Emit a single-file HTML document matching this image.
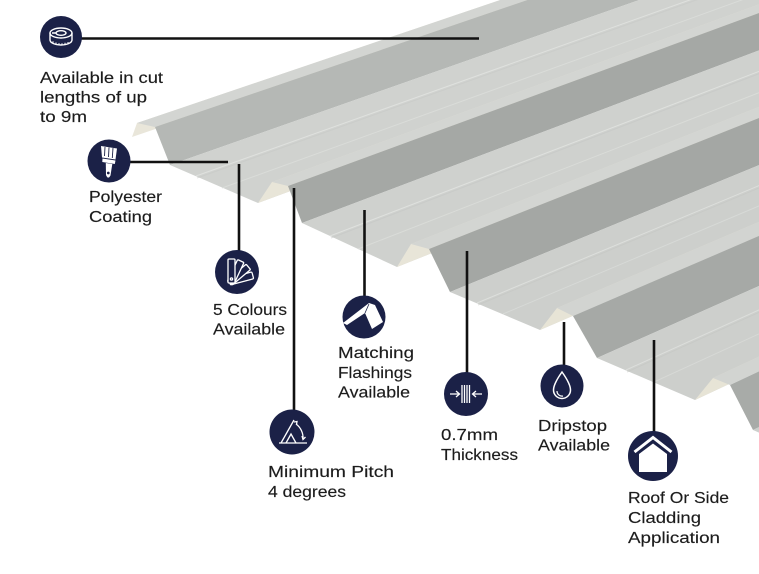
<!DOCTYPE html>
<html>
<head>
<meta charset="utf-8">
<style>
  html,body{margin:0;padding:0;background:#fff;}
  svg{display:block;}
  .t{font-family:"Liberation Sans",Arial,sans-serif;font-size:16px;fill:#1c1c1c;stroke:#1c1c1c;stroke-width:0.15;}
</style>
</head>
<body>
<svg width="759" height="574" viewBox="0 0 759 574" xmlns="http://www.w3.org/2000/svg">
  <defs>
    <linearGradient id="dk" x1="0" y1="0" x2="0.35" y2="1">
      <stop offset="0" stop-color="#a1a4a1"/>
      <stop offset="1" stop-color="#adb0ad"/>
    </linearGradient>
  </defs>
  <rect width="759" height="574" fill="#ffffff"/>

  <!-- Corrugated sheet: faces drawn toward vanishing point (4280,-1280) -->
  <g stroke="none">
    <!-- rib 1 -->
    <polygon points="132,137 137,123 4280,-1280" fill="#e9e6da"/>
    <polygon points="137,123 155,127 4280,-1280" fill="#d3d5d2"/>
    <polygon points="155,127 170,165 4280,-1280" fill="#b5b8b5"/>
    <polygon points="170,165 258,203 4280,-1280" fill="#d0d2cf"/>
    <g stroke-width="1" fill="none">
      <line x1="196" y1="176" x2="4280" y2="-1280" stroke="#dfe1de"/>
      <line x1="197" y1="178" x2="4280" y2="-1278" stroke="#c6c8c5" stroke-opacity="0.5"/>
      <line x1="222" y1="188" x2="4280" y2="-1280" stroke="#dcdedb" stroke-opacity="0.8"/>
    </g>
    <!-- rib 2 -->
    <polygon points="258,203 272,182 4280,-1280" fill="#e8e5d8"/>
    <polygon points="272,182 288,186 4280,-1280" fill="#d3d5d2"/>
    <polygon points="288,186 302,223 4280,-1280" fill="#a5a8a5"/>
    <polygon points="302,223 397,267 4280,-1280" fill="#cfd1ce"/>
    <g stroke-width="1" fill="none">
      <line x1="330" y1="236" x2="4280" y2="-1280" stroke="#dfe1de"/>
      <line x1="331" y1="238" x2="4280" y2="-1278" stroke="#c4c6c3" stroke-opacity="0.5"/>
      <line x1="358" y1="249" x2="4280" y2="-1280" stroke="#dcdedb" stroke-opacity="0.8"/>
    </g>
    <!-- rib 3 -->
    <polygon points="397,267 411,244 4280,-1280" fill="#e8e5d8"/>
    <polygon points="411,244 429,249 4280,-1280" fill="#d3d5d2"/>
    <polygon points="429,249 450,292 4280,-1280" fill="#a4a7a4"/>
    <polygon points="450,292 540,330 4280,-1280" fill="#cdcfcc"/>
    <g stroke-width="1" fill="none">
      <line x1="477" y1="303" x2="4280" y2="-1280" stroke="#dddfdc"/>
      <line x1="478" y1="305" x2="4280" y2="-1278" stroke="#c3c5c2" stroke-opacity="0.5"/>
      <line x1="503" y1="314" x2="4280" y2="-1280" stroke="#dadcd9" stroke-opacity="0.8"/>
    </g>
    <!-- rib 4 -->
    <polygon points="540,330 557,308 4280,-1280" fill="#e7e4d6"/>
    <polygon points="557,308 573,316 4280,-1280" fill="#d2d4d1"/>
    <polygon points="573,316 597,358 4280,-1280" fill="#a6a9a6"/>
    <polygon points="597,358 695,400 4280,-1280" fill="#cdcfcc"/>
    <g stroke-width="1" fill="none">
      <line x1="626" y1="370" x2="4280" y2="-1280" stroke="#dcdedb"/>
      <line x1="627" y1="372" x2="4280" y2="-1278" stroke="#c3c5c2" stroke-opacity="0.5"/>
      <line x1="654" y1="382" x2="4280" y2="-1280" stroke="#d9dbd8" stroke-opacity="0.8"/>
    </g>
    <!-- rib 5 -->
    <polygon points="695,400 713,378 4280,-1280" fill="#e7e4d6"/>
    <polygon points="713,378 730,385 4280,-1280" fill="#d2d4d1"/>
    <polygon points="730,385 753,430 4280,-1280" fill="#a8aba8"/>
    <polygon points="753,430 900,495 4280,-1280" fill="#cdcfcc"/>
  </g>

  <!-- connector lines -->
  <g stroke="#111" stroke-width="2.6" fill="none">
    <line x1="80" y1="38.5" x2="479" y2="38.5"/>
    <line x1="128" y1="162" x2="228" y2="162"/>
    <line x1="239" y1="164" x2="239" y2="252"/>
    <line x1="294" y1="188" x2="294" y2="412"/>
    <line x1="364.5" y1="210" x2="364.5" y2="297"/>
    <line x1="467" y1="251" x2="467" y2="374"/>
    <line x1="564" y1="322" x2="564" y2="366"/>
    <line x1="654" y1="340" x2="654" y2="433"/>
  </g>

  <!-- icon circles -->
  <g fill="#1b2147">
    <circle cx="61" cy="37" r="21"/>
    <circle cx="109" cy="161" r="21.5"/>
    <circle cx="237" cy="272" r="22"/>
    <circle cx="292" cy="432" r="22.5"/>
    <circle cx="364" cy="317" r="21.5"/>
    <circle cx="466" cy="394" r="22"/>
    <circle cx="562" cy="386" r="21.5"/>
    <circle cx="653" cy="456" r="25"/>
  </g>

  <!-- icon 1: tape measure -->
  <g stroke="#fff" fill="none" stroke-width="1.4">
    <ellipse cx="61" cy="33" rx="11" ry="5"/>
    <path d="M50 33 v7 a11 5 0 0 0 22 0 v-7"/>
    <path d="M56 33 a5 2.3 0 1 1 10 0 a5 2.3 0 0 1 -10 0 M56 33 h-4"/>
    <path d="M53 43 v-1.8 M56 44.3 v-1.8 M59 44.9 v-1.8 M62 45 v-1.8 M65 44.6 v-1.8 M68 43.8 v-1.8" stroke-width="1"/>
  </g>

  <!-- icon 2: paint brush -->
  <g fill="#fff">
    <path d="M101 146 L117 148.5 L115.5 159.5 L102 157.5 Z"/>
    <path d="M102.5 158.5 L115.5 160.5 L114.8 164 L102.3 162 Z"/>
    <path d="M105.8 163 L112.3 164 L110.5 175.5 Q108 180 106 175 Z"/>
  </g>
  <g stroke="#1b2147" stroke-width="0.9">
    <line x1="105" y1="147" x2="104.5" y2="156"/>
    <line x1="109" y1="147.5" x2="108.5" y2="157"/>
    <line x1="113" y1="148" x2="112.3" y2="158"/>
    <circle cx="108.3" cy="173" r="0.9" fill="#1b2147"/>
  </g>

  <!-- icon 3: colour fan -->
  <g stroke="#fff" fill="#1b2147" stroke-width="1.3">
    <rect x="228" y="259" width="7" height="24" rx="1" transform="rotate(75 231.5 281)"/>
    <rect x="228" y="259" width="7" height="24" rx="1" transform="rotate(50 231.5 281)"/>
    <rect x="228" y="259" width="7" height="24" rx="1" transform="rotate(25 231.5 281)"/>
    <rect x="228" y="259" width="7" height="24" rx="1"/>
    <circle cx="231.5" cy="279" r="1.1" fill="none"/>
  </g>

  <!-- icon 4: angle / pitch -->
  <g stroke="#fff" fill="none" stroke-width="1.3">
    <path d="M279 443 L307 443"/>
    <path d="M281 443 L294 420"/>
    <path d="M286 443 L291 434 L296 443"/>
    <path d="M296 424 A17 17 0 0 1 303 439"/>
    <path d="M294 422 l3 -0.5 l-0.5 3"/>
    <path d="M302 436 l1 3.5 l2.5 -2.5"/>
  </g>

  <!-- icon 5: flashing -->
  <g fill="#fff">
    <polygon points="343,323 369,303 375,305 383,322 372,329 365,313 347,325"/>
  </g>
  <line x1="365" y1="313" x2="369" y2="304" stroke="#1b2147" stroke-width="0.8"/>

  <!-- icon 6: thickness -->
  <g stroke="#fff" fill="none" stroke-width="1.3">
    <path d="M450 394 H459 M456 391 L459.5 394 L456 397"/>
    <path d="M462 385 V403 M464.5 385 V403 M467 385 V403 M469.5 385 V403"/>
    <path d="M482 394 H473 M476 391 L472.5 394 L476 397"/>
  </g>

  <!-- icon 7: drop -->
  <g stroke="#fff" fill="none" stroke-width="1.5">
    <path d="M562 372 C557 379 553.5 385 553.5 390 A8.5 8.5 0 0 0 570.5 390 C570.5 385 567 379 562 372 Z"/>
    <path d="M557 391 A5 5 0 0 0 563 396" stroke-width="1.2"/>
  </g>

  <!-- icon 8: house -->
  <g fill="#fff">
    <path d="M634.5 452 L653 437.5 L671.5 452" stroke="#fff" stroke-width="3" fill="none"/>
    <polygon points="639,454 653,443.5 667,454 667,472 639,472"/>
  </g>

  <!-- labels -->
  <g>
    <text class="t" x="40" y="83" textLength="123" lengthAdjust="spacingAndGlyphs">Available in cut</text>
    <text class="t" x="40" y="102.5" textLength="107" lengthAdjust="spacingAndGlyphs">lengths of up</text>
    <text class="t" x="40" y="122" textLength="47" lengthAdjust="spacingAndGlyphs">to 9m</text>

    <text class="t" x="89" y="202" textLength="73" lengthAdjust="spacingAndGlyphs">Polyester</text>
    <text class="t" x="89" y="222" textLength="63" lengthAdjust="spacingAndGlyphs">Coating</text>

    <text class="t" x="213" y="315" textLength="74" lengthAdjust="spacingAndGlyphs">5 Colours</text>
    <text class="t" x="213" y="334.5" textLength="72" lengthAdjust="spacingAndGlyphs">Available</text>

    <text class="t" x="338" y="358" textLength="76" lengthAdjust="spacingAndGlyphs">Matching</text>
    <text class="t" x="338" y="378" textLength="74" lengthAdjust="spacingAndGlyphs">Flashings</text>
    <text class="t" x="338" y="397.5" textLength="72" lengthAdjust="spacingAndGlyphs">Available</text>

    <text class="t" x="441" y="440" textLength="57" lengthAdjust="spacingAndGlyphs">0.7mm</text>
    <text class="t" x="441" y="460" textLength="77" lengthAdjust="spacingAndGlyphs">Thickness</text>

    <text class="t" x="538" y="431" textLength="69" lengthAdjust="spacingAndGlyphs">Dripstop</text>
    <text class="t" x="538" y="450.5" textLength="72" lengthAdjust="spacingAndGlyphs">Available</text>

    <text class="t" x="268" y="477" textLength="126" lengthAdjust="spacingAndGlyphs">Minimum Pitch</text>
    <text class="t" x="268" y="497" textLength="78" lengthAdjust="spacingAndGlyphs">4 degrees</text>

    <text class="t" x="628" y="503" textLength="101" lengthAdjust="spacingAndGlyphs">Roof Or Side</text>
    <text class="t" x="628" y="523" textLength="73" lengthAdjust="spacingAndGlyphs">Cladding</text>
    <text class="t" x="628" y="543" textLength="92" lengthAdjust="spacingAndGlyphs">Application</text>
  </g>
</svg>
</body>
</html>
